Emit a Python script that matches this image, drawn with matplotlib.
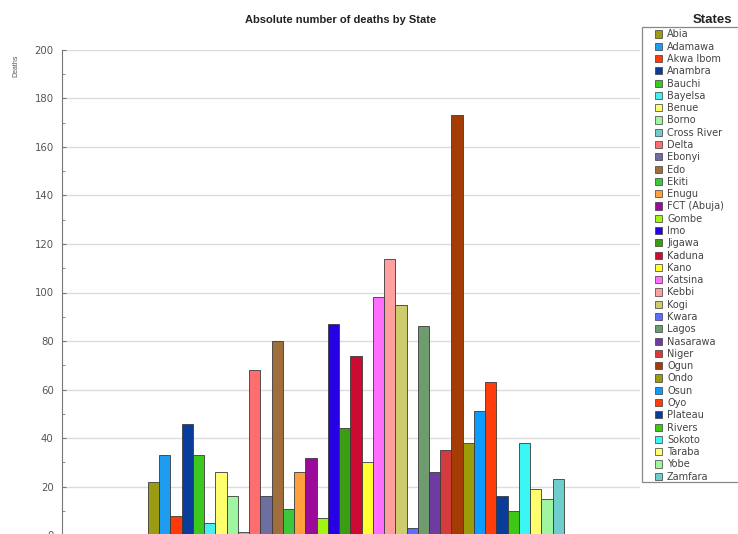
import matplotlib
matplotlib.use("Agg")
import matplotlib.pyplot as plt
from matplotlib.patches import Patch, Rectangle
from matplotlib.ticker import MultipleLocator

plt.rcParams['font.family'] = ['Liberation Sans', 'DejaVu Sans']

states = ["Abia", "Adamawa", "Akwa Ibom", "Anambra", "Bauchi", "Bayelsa", "Benue", "Borno",
          "Cross River", "Delta", "Ebonyi", "Edo", "Ekiti", "Enugu", "FCT (Abuja)", "Gombe",
          "Imo", "Jigawa", "Kaduna", "Kano", "Katsina", "Kebbi", "Kogi", "Kwara", "Lagos",
          "Nasarawa", "Niger", "Ogun", "Ondo", "Osun", "Oyo", "Plateau", "Rivers", "Sokoto",
          "Taraba", "Yobe", "Zamfara"]
deaths = [22, 33, 8, 46, 33, 5, 26, 16,
          1.5, 68, 16, 80, 11, 26, 32, 7,
          87, 44, 74, 30, 98, 114, 95, 3, 86,
          26, 35, 173, 38, 51, 63, 16, 10, 38,
          19, 15, 23]
colors = ["#9c9c14", "#1e9cf0", "#ff3a0a", "#0a3c9c", "#3cc81e", "#46f0f0", "#ffff6e", "#a0f5a0",
          "#6ecdcd", "#ff6e6e", "#6e6ea0", "#a06e3c", "#3cc83c", "#ffa03c", "#9c0a9c", "#a0f514",
          "#2800e6", "#3c9c14", "#cd0a32", "#ffff32", "#ff6eff", "#ffa0a0", "#cdcd6e", "#5a6eff",
          "#6e9c6e", "#6e3ca0", "#d23c3c", "#a33c05", "#9c9c0a", "#0a9cff", "#ff3c0a", "#0a3c9c",
          "#3cc814", "#3cf5f5", "#ffff6e", "#a0f5a0", "#6ecdcd"]
y_ticks = [0, 20, 40, 60, 80, 100, 120, 140, 160, 180, 200]

W, H = 738, 534
fig = plt.figure(figsize=(W / 100, H / 100), dpi=100)
fig.patch.set_facecolor("white")

ax_left, ax_right = 62, 640
y0_px, y200_px = 535.3, 49.7
ax = fig.add_axes([ax_left / W, 1 - y0_px / H, (ax_right - ax_left) / W, (y0_px - y200_px) / H])

x = list(range(len(states)))
ax.bar(x, deaths, width=1.0, color=colors, edgecolor="#3a3a3a", linewidth=0.6, zorder=3)

bar_px = 11.24
first_edge = 148
xmin = -0.5 - (first_edge - ax_left) / bar_px
ax.set_xlim(xmin, xmin + (ax_right - ax_left) / bar_px)
ax.set_ylim(0, 200)
ax.set_yticks(y_ticks)
ax.yaxis.set_minor_locator(MultipleLocator(10))
ax.set_xticks([])
ax.grid(axis="y", color="#dcdcdc", linewidth=1.0, zorder=0)
for s in ["top", "right", "bottom"]:
    ax.spines[s].set_visible(False)
ax.spines["left"].set_color("#777777")
ax.spines["left"].set_linewidth(0.8)
ax.tick_params(axis="y", which="major", direction="in", length=3, color="#777777",
               labelsize=7.3, labelcolor="#555555", pad=6)
ax.tick_params(axis="y", which="minor", direction="in", length=2, color="#777777")
for lab in ax.get_yticklabels():
    lab.set_family("DejaVu Sans")

fig.text(341 / W, 1 - 20 / H, "Absolute number of deaths by State", ha="center", va="center",
         fontsize=8, fontweight="bold", color="#222222")
fig.text(16 / W, 1 - 66 / H, "Deaths", ha="center", va="center", rotation=90,
         fontsize=5, color="#555555")

# legend frame (extends past the right edge like the reference)
fig.patches.append(Rectangle((641.7 / W, 1 - 482 / H), 110 / W, (482 - 27) / H,
                             transform=fig.transFigure, facecolor="white",
                             edgecolor="#888888", linewidth=0.9, zorder=1))
handles = [Patch(facecolor=c, edgecolor="#3a3a3a", linewidth=0.5) for c in colors]
leg = fig.legend(handles, states, loc="upper left", bbox_to_anchor=(653 / W, 1 - 27.5 / H),
                 prop={"family": "DejaVu Sans", "size": 7.0}, frameon=False,
                 handlelength=0.75, handleheight=0.75,
                 handletextpad=0.5, labelspacing=0.235, borderpad=0.2, borderaxespad=0)
for t in leg.get_texts():
    t.set_color("#444444")
fig.text(693 / W, 1 - 20 / H, "States", ha="left", va="center", fontsize=9.5,
         fontweight="bold", color="#222222")

fig.savefig("out.png", dpi=100)
